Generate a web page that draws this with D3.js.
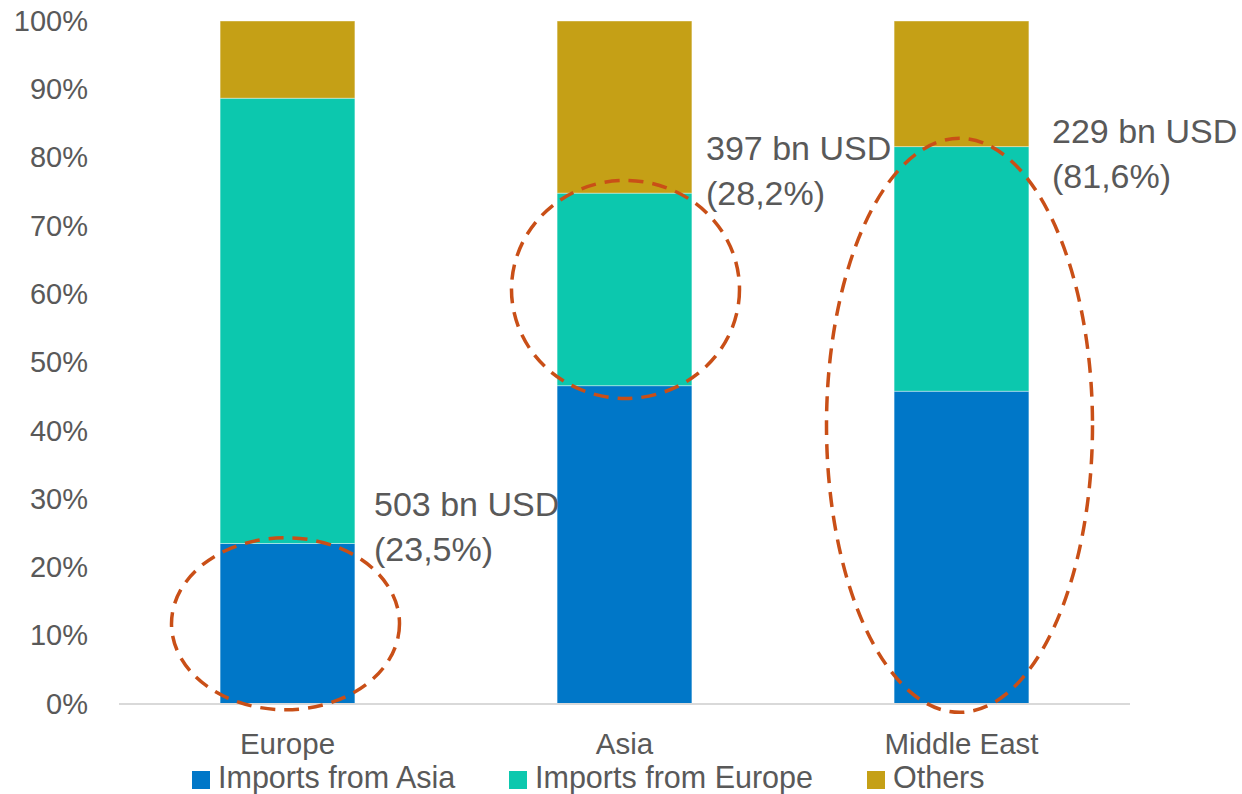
<!DOCTYPE html>
<html>
<head>
<meta charset="utf-8">
<script src="https://cdn.jsdelivr.net/npm/d3@7"></script>
<style>
  html, body { margin: 0; padding: 0; background: #fff; }
  svg { display: block; font-family: "Liberation Sans", Arial, sans-serif; }
</style>
</head>
<body>
<svg id="chart" width="1242" height="794"></svg>
<script>
// Import shares by region (% of total imports)
const regions = ["Europe", "Asia", "Middle East"];
const seriesNames = ["Imports from Asia", "Imports from Europe", "Others"];
const importsFromAsia = [23.5, 46.6, 45.8];
const importsFromEurope = [65.2, 28.2, 35.8];
const others = [11.3, 25.2, 18.4];
const yTicks = [0, 10, 20, 30, 40, 50, 60, 70, 80, 90, 100];

// Highlighted segments: region, share range and callout text
const calloutRegions = ["Europe", "Asia", "Middle East"];
const calloutLow = [0, 46.6, 0];
const calloutHigh = [23.5, 74.8, 81.6];
const calloutAmount = ["503 bn USD", "397 bn USD", "229 bn USD"];
const calloutShare = ["(23,5%)", "(28,2%)", "(81,6%)"];

const colors = ["#0077C8", "#0CC8AE", "#C5A016"];
const textColor = "#595959";
const ringColor = "#C94F17";

const svg = d3.select("#chart");
const margin = { left: 119, right: 112, top: 21, bottom: 90 };
const W = 1242, H = 794;

const x = d3.scaleBand()
  .domain(regions)
  .range([margin.left, W - margin.right])
  .paddingInner(0.6)
  .paddingOuter(0.3);

const y = d3.scaleLinear()
  .domain([0, 100])
  .range([H - margin.bottom, margin.top]);

// Stack the three series per region
const rows = regions.map((r, i) => ({
  region: r,
  [seriesNames[0]]: importsFromAsia[i],
  [seriesNames[1]]: importsFromEurope[i],
  [seriesNames[2]]: others[i]
}));
const stacked = d3.stack().keys(seriesNames)(rows);

svg.append("g")
  .selectAll("g")
  .data(stacked)
  .join("g")
  .attr("fill", (d, i) => colors[i])
  .selectAll("rect")
  .data(d => d)
  .join("rect")
  .attr("x", d => x(d.data.region))
  .attr("width", x.bandwidth())
  .attr("y", d => y(d[1]))
  .attr("height", d => y(d[0]) - y(d[1]))
  .attr("stroke", "rgba(255,255,255,0.5)")
  .attr("stroke-width", 0.8);

// Category axis baseline
svg.append("line")
  .attr("x1", margin.left).attr("x2", W - margin.right)
  .attr("y1", y(0)).attr("y2", y(0))
  .attr("stroke", "#D9D9D9").attr("stroke-width", 2);

// Y axis labels
const yAxis = d3.axisLeft(y)
  .tickValues(yTicks)
  .tickFormat(d => d + "%")
  .tickSize(0)
  .tickPadding(0);
const yg = svg.append("g")
  .attr("transform", "translate(88,0)")
  .call(yAxis);
yg.select(".domain").remove();
yg.selectAll("text")
  .attr("fill", textColor)
  .attr("font-size", 29)
  .attr("font-family", "Liberation Sans, Arial, sans-serif");

// X axis labels
const xAxis = d3.axisBottom(x).tickSize(0).tickPadding(0);
const xg = svg.append("g")
  .attr("transform", `translate(0,${y(0) + 29})`)
  .call(xAxis);
xg.select(".domain").remove();
xg.selectAll("text")
  .attr("fill", textColor)
  .attr("font-size", 29.5)
  .attr("font-family", "Liberation Sans, Arial, sans-serif");

// Dashed rings around highlighted segments
const ringLayout = [
  { dx: -2, rx: 114, ry: 86, tx: 374, ty: 516 },
  { dx: 1, rx: 114, ry: 109, tx: 706, ty: 160 },
  { dx: -2, rx: 133, ry: 287, tx: 1052, ty: 143 }
];
const rings = svg.append("g");
calloutRegions.forEach((r, i) => {
  const L = ringLayout[i];
  const cx = x(r) + x.bandwidth() / 2 + L.dx;
  const cy = y((calloutLow[i] + calloutHigh[i]) / 2);
  rings.append("ellipse")
    .attr("cx", cx).attr("cy", cy)
    .attr("rx", L.rx).attr("ry", L.ry)
    .attr("fill", "none")
    .attr("stroke", ringColor)
    .attr("stroke-width", 3.5)
    .attr("stroke-dasharray", "15 9");
  const t = svg.append("text")
    .attr("x", L.tx).attr("y", L.ty)
    .attr("fill", textColor)
    .attr("font-size", 34);
  t.append("tspan").attr("x", L.tx).text(calloutAmount[i]);
  t.append("tspan").attr("x", L.tx).attr("dy", 45).text(calloutShare[i]);
});

// Legend
const legendX = [192, 509, 867];
const legend = svg.append("g");
seriesNames.forEach((s, i) => {
  legend.append("rect")
    .attr("x", legendX[i]).attr("y", 771)
    .attr("width", 18).attr("height", 18)
    .attr("fill", colors[i]);
  legend.append("text")
    .attr("x", legendX[i] + 26).attr("y", 788)
    .attr("fill", textColor)
    .attr("font-size", 30.5)
    .text(s);
});
</script>
</body>
</html>
